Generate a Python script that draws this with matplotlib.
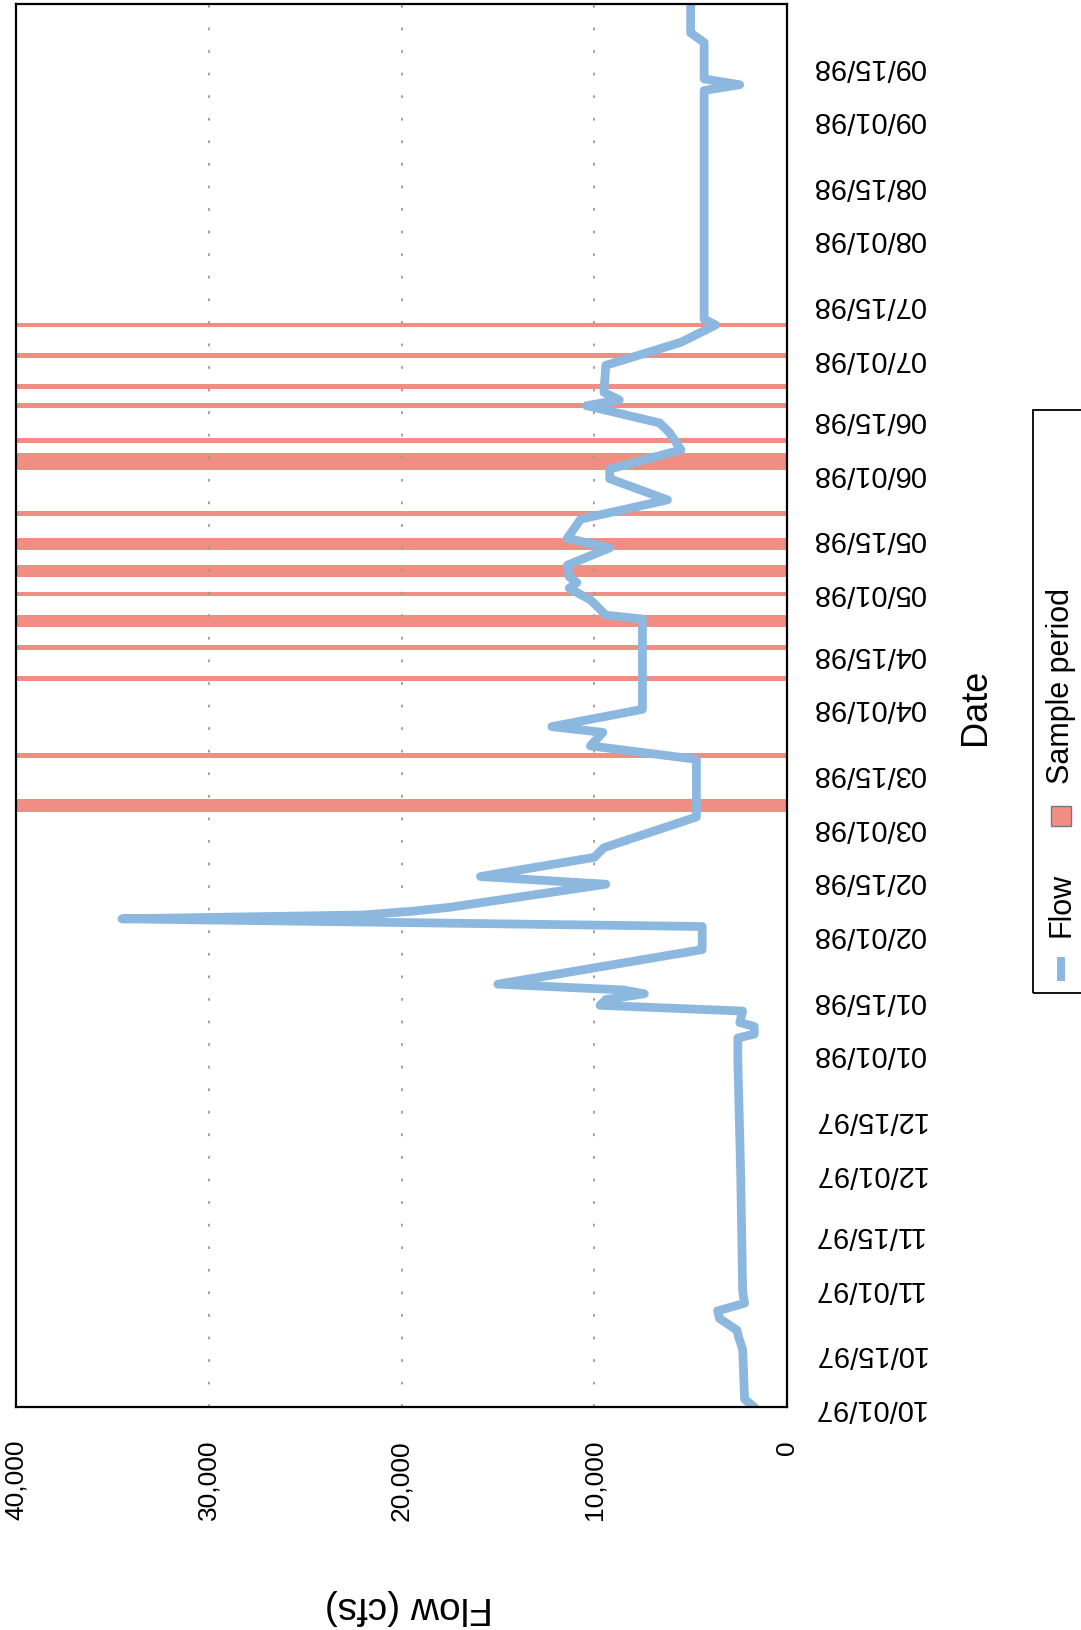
import numpy as np
import matplotlib
matplotlib.use('Agg')
import matplotlib.pyplot as plt
import matplotlib.dates as mdates
from matplotlib.patches import Rectangle

plt.rcParams['font.family'] = ['Liberation Sans', 'DejaVu Sans']

flow_dates = ['1997-10-01', '1997-10-03', '1997-10-16', '1997-10-19', '1997-10-21',
              '1997-10-24', '1997-10-26', '1997-10-28', '1997-10-31', '1997-11-30',
              '1997-12-30', '1998-01-05', '1998-01-06', '1998-01-08', '1998-01-09',
              '1998-01-12', '1998-01-13T12:00', '1998-01-15', '1998-01-16T12:00',
              '1998-01-17T12:00', '1998-01-19', '1998-01-28', '1998-02-03', '1998-02-05',
              '1998-02-06', '1998-02-07', '1998-02-08', '1998-02-14', '1998-02-16',
              '1998-02-21', '1998-02-23T12:00', '1998-03-03T12:00', '1998-03-18T12:00',
              '1998-03-22', '1998-03-25T12:00', '1998-03-27', '1998-03-31T12:00',
              '1998-04-24', '1998-04-25', '1998-04-29', '1998-05-02', '1998-05-03T12:00',
              '1998-05-05', '1998-05-08', '1998-05-12T12:00', '1998-05-15', '1998-05-20',
              '1998-05-25', '1998-05-30T12:00', '1998-06-02', '1998-06-07',
              '1998-06-11T12:00', '1998-06-14', '1998-06-18T12:00', '1998-06-20',
              '1998-06-22', '1998-06-29', '1998-07-05', '1998-07-09T12:00', '1998-07-11',
              '1998-09-08T12:00', '1998-09-10', '1998-09-11T12:00', '1998-09-21',
              '1998-09-23T12:00', '1998-10-01']
flow_cfs = [1700, 2200, 2300, 2500, 2600,
            3500, 3600, 2200, 2300, 2400,
            2550, 2550, 1700, 1700, 2450,
            2300, 9700, 9400, 7400,
            8500, 15000, 4400, 4400, 34500,
            22000, 19400, 17500, 9400, 15900,
            10000, 9500, 4700, 4700,
            10200, 9550, 12200, 7500,
            7500, 9400, 10200, 11300, 10900,
            11300, 11400, 9200, 11400, 10700,
            6200, 9200, 9200, 5500,
            6100, 6600, 10400, 8700,
            9500, 9400, 5500, 3700, 4300,
            4300, 2450, 4300, 4300,
            5000, 5000]

# days on which samples were taken
sample_dates = ['1998-03-05', '1998-03-06', '1998-03-07', '1998-03-19', '1998-04-08',
                '1998-04-16', '1998-04-22', '1998-04-23', '1998-04-24', '1998-04-30',
                '1998-05-05', '1998-05-06', '1998-05-07', '1998-05-12', '1998-05-13',
                '1998-05-14', '1998-05-21', '1998-06-02', '1998-06-03', '1998-06-04',
                '1998-06-05', '1998-06-09', '1998-06-18', '1998-06-23', '1998-07-01',
                '1998-07-09']

tick_dates = ['1997-10-01', '1997-10-15', '1997-11-01', '1997-11-15', '1997-12-01',
              '1997-12-15', '1998-01-01', '1998-01-15', '1998-02-01', '1998-02-15',
              '1998-03-01', '1998-03-15', '1998-04-01', '1998-04-15', '1998-05-01',
              '1998-05-15', '1998-06-01', '1998-06-15', '1998-07-01', '1998-07-15',
              '1998-08-01', '1998-08-15', '1998-09-01', '1998-09-15']
flow_ticks = [0, 10000, 20000, 30000, 40000]

blue = '#8cb8e0'
red = '#f08e84'

flow_y = mdates.date2num(np.array(flow_dates, dtype='datetime64[m]'))
sample_y = mdates.date2num(np.array(sample_dates, dtype='datetime64[m]'))
tick_y = mdates.date2num(np.array(tick_dates, dtype='datetime64[m]'))

W, H = 1081, 1631
fig = plt.figure(figsize=(W / 100, H / 100), dpi=100)
fig.patch.set_facecolor('white')

# chart is printed sideways: flow runs right-to-left, dates run bottom-to-top
ax = fig.add_axes([16 / W, 1 - 1408 / H, 771 / W, 1403 / H])

ax.barh(sample_y + 0.5, flow_ticks[-1], height=1.25, left=0, align='center',
        color=red, zorder=1)
ax.plot(flow_cfs, flow_y, color=blue, lw=6.3, solid_joinstyle='round',
        solid_capstyle='round', zorder=3)

ax.set_xlim(flow_ticks[-1], flow_ticks[0])
ax.set_ylim(mdates.date2num(np.datetime64('1997-10-01')),
            mdates.date2num(np.datetime64('1998-10-01')))

ax.set_xticks(flow_ticks)
ax.set_xticklabels(['{:,}'.format(v) for v in flow_ticks], rotation=90)
ax.xaxis.grid(True, color='#999999', lw=1.3, linestyle=(0, (1.5, 11)))
ax.set_axisbelow(False)

ax.yaxis.tick_right()
ax.set_yticks(tick_y)
ax.set_yticklabels([mdates.num2date(t).strftime('%m/%d/%y') for t in tick_y],
                   rotation=180, va='center')

ax.tick_params(axis='x', length=0, pad=23, labelsize=19)
ax.tick_params(axis='y', length=0, pad=18, labelsize=21)

for sp in ax.spines.values():
    sp.set_linewidth(1.6)
    sp.set_color('black')
    sp.set_zorder(5)

ax.set_xlabel('Flow (cfs)', fontsize=28, rotation=180)
ax.xaxis.set_label_coords((393 * 1.04 - 16) / 771, -(1607 - 1408) / 1403)
ax.xaxis.label.set_va('center')

ax.yaxis.set_label_position('right')
ax.set_ylabel('Date', fontsize=26, rotation=90)
ax.yaxis.set_label_coords((975 - 16) / 771, 0.5)
ax.yaxis.label.set_va('center')
ax.yaxis.label.set_ha('center')

# legend box, also sideways, runs off the right edge of the page
fig.patches.append(Rectangle((1033 / W, 1 - 994 / H), 80 / W, 583 / H,
                             transform=fig.transFigure, fill=False,
                             edgecolor='black', lw=1.3))
fig.patches.append(Rectangle(((1061 - 4) / W, 1 - 982 / H), 8 / W, 24 / H,
                             transform=fig.transFigure, facecolor=blue,
                             edgecolor='none'))
fig.text(1061 / W, 1 - 905 / H, 'Flow', rotation=90, ha='center', va='center',
         fontsize=22)
fig.patches.append(Rectangle(((1061 - 10) / W, 1 - 827 / H), 20 / W, 20 / H,
                             transform=fig.transFigure, facecolor=red,
                             edgecolor='#777777', lw=1))
fig.text(1061 / W, 1 - 686 / H, 'Sample period', rotation=90, ha='center',
         va='center', fontsize=22)

fig.savefig('out.png', dpi=100)
